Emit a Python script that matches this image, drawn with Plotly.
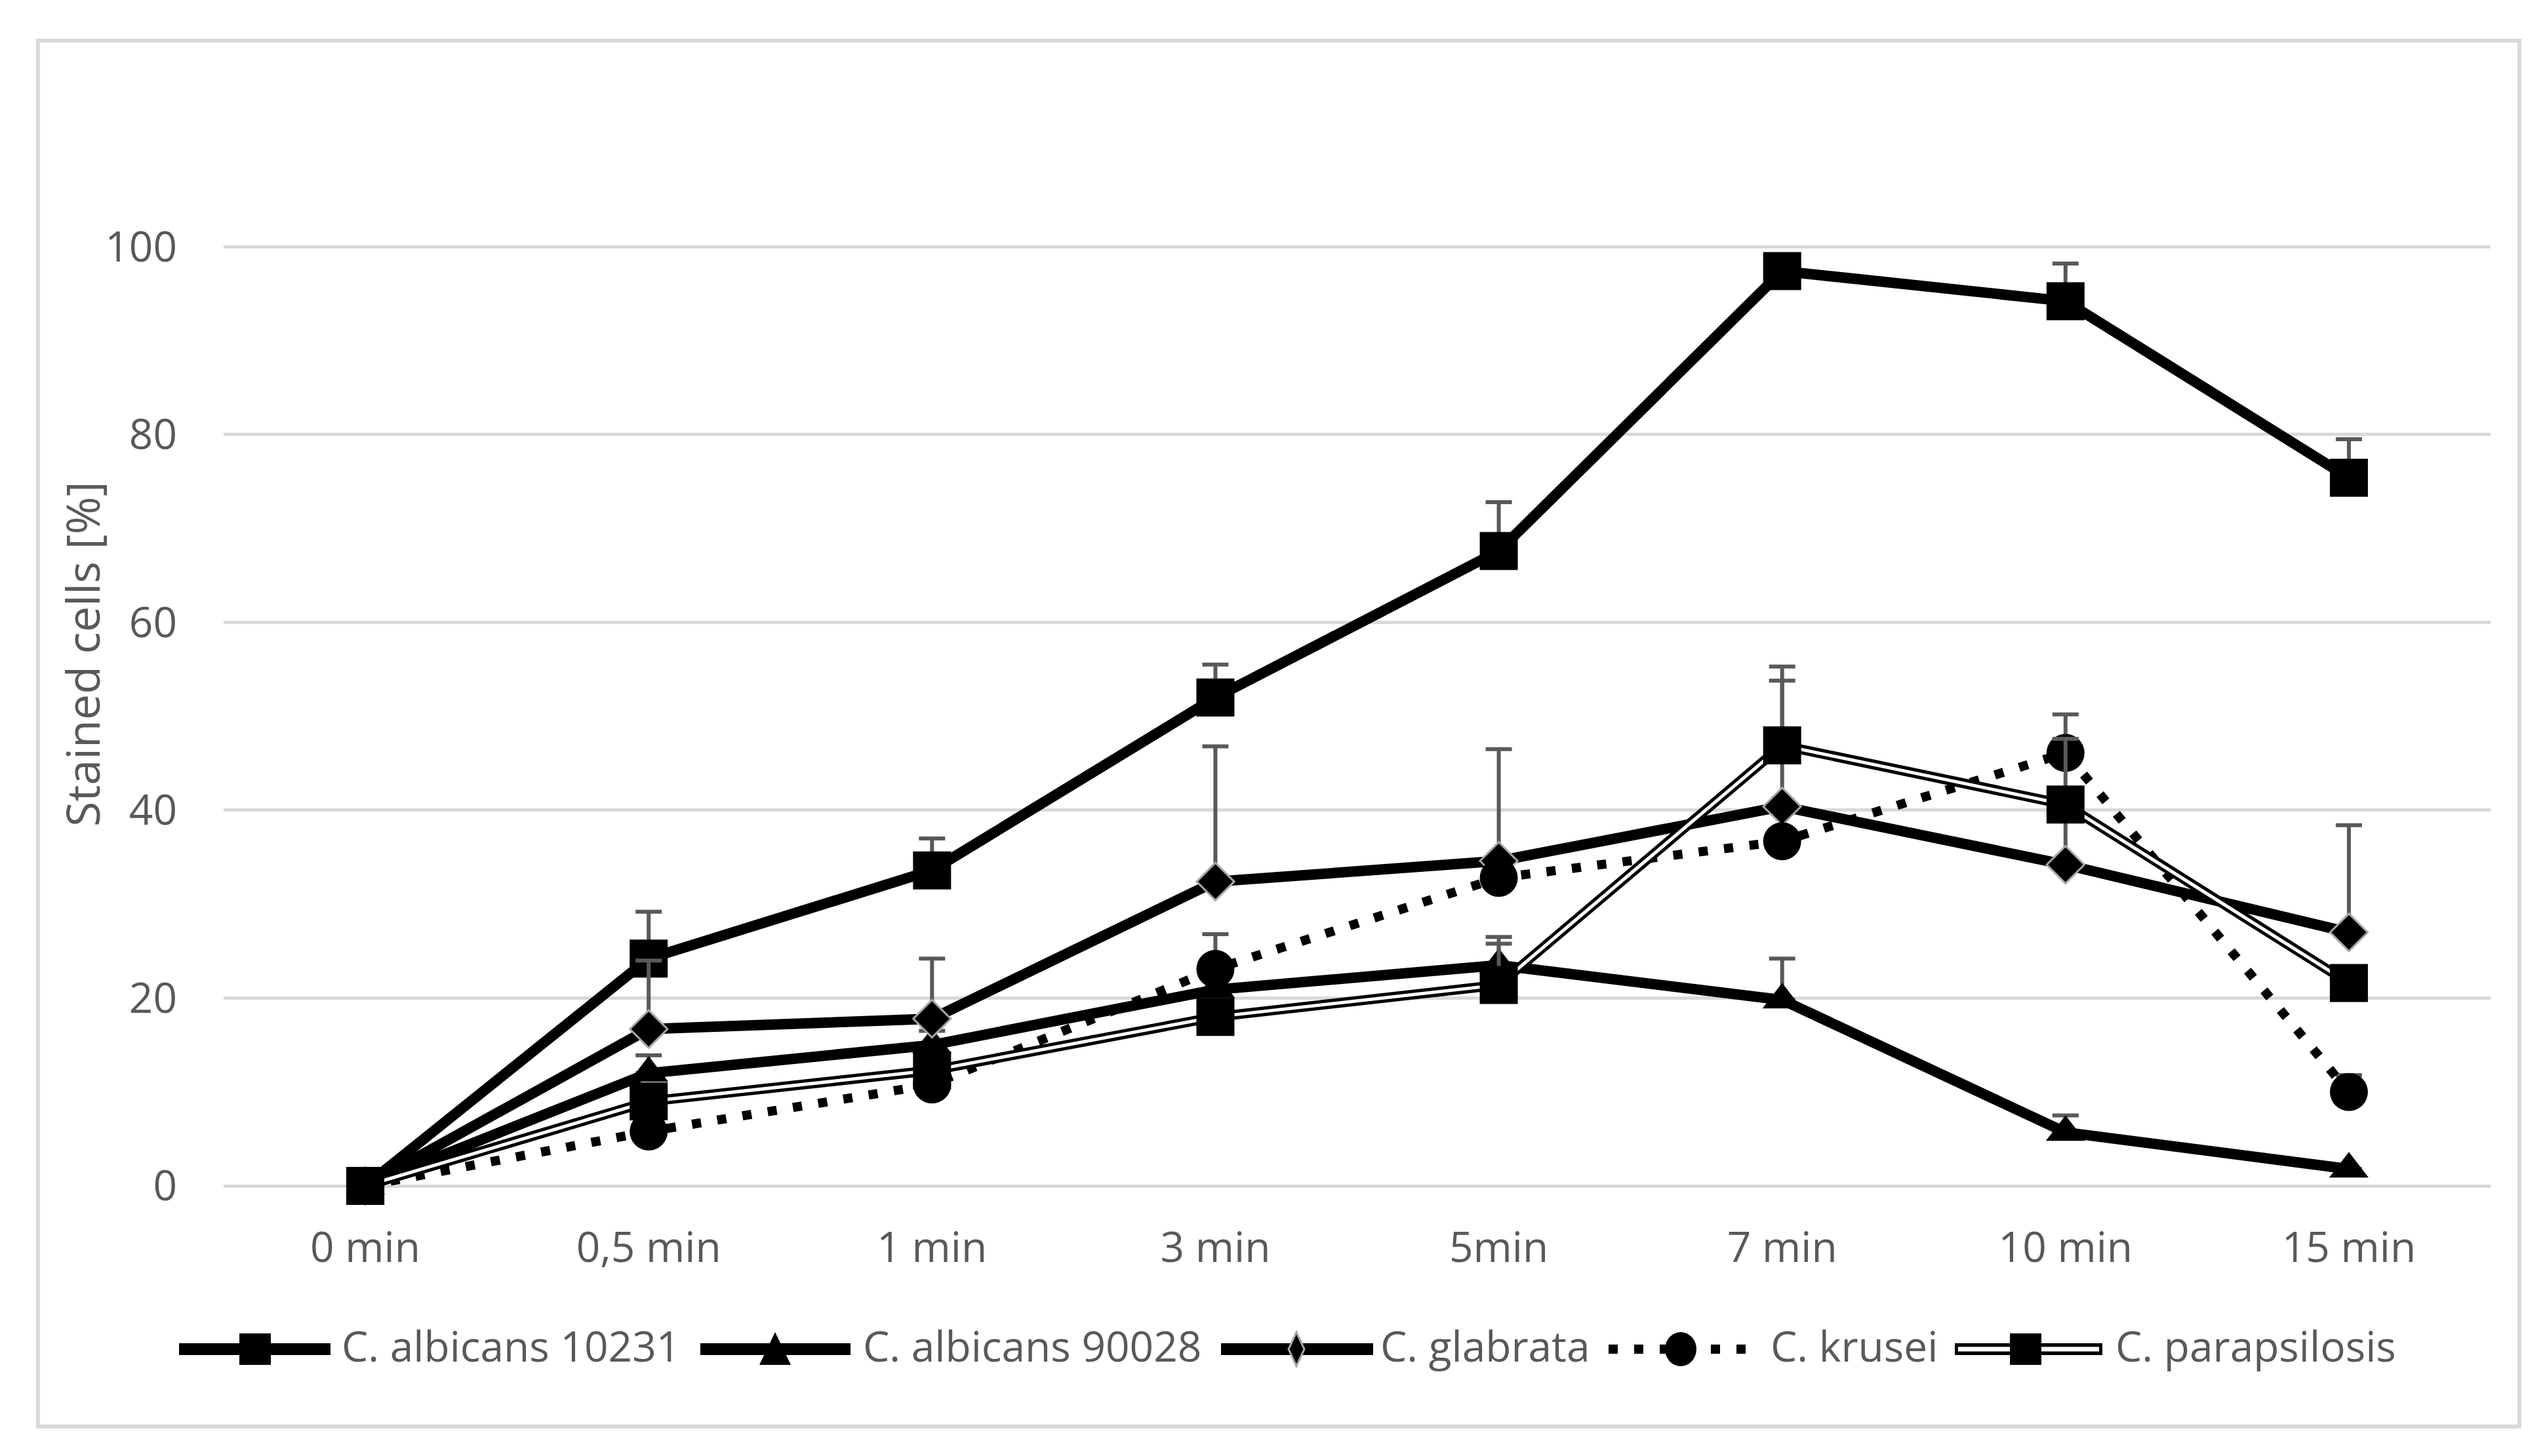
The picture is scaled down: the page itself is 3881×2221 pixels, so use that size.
import plotly.graph_objects as go

# ---------------- data ----------------
categories = ["0 min", "0,5 min", "1 min", "3 min", "5min", "7 min", "10 min", "15 min"]
y_ticks = [0, 20, 40, 60, 80, 100]

alb10231 = [0, 24.2, 33.6, 52.0, 67.6, 97.4, 94.2, 75.4]
alb10231_err = [0, 5.0, 3.4, 3.5, 5.2, 1.0, 4.0, 4.1]

alb90028 = [0, 12.0, 15.0, 20.9, 23.5, 19.8, 5.7, 1.8]
alb90028_err = [0, 1.9, 1.5, 0, 2.3, 4.4, 1.8, 0]

glabrata = [0, 16.7, 17.8, 32.4, 34.6, 40.4, 34.2, 27.0]
glabrata_err = [0, 7.3, 6.4, 14.4, 11.9, 13.4, 5.0, 11.4]

krusei = [0, 5.8, 10.8, 23.1, 32.8, 36.7, 46.1, 10.0]
krusei_err = [0, 0, 0, 3.7, 0, 0, 4.1, 1.8]

parapsilosis = [0, 9.0, 12.3, 18.0, 21.4, 46.9, 40.6, 21.6]
parapsilosis_err = [0, 0, 0, 0, 5.1, 8.4, 7.0, 0]

series_names = ["C. albicans 10231", "C. albicans 90028", "C. glabrata", "C. krusei", "C. parapsilosis"]

# ---------------- style ----------------
W, H = 3881, 2221
ML, MR, MT, MB = 333, 91, 311, 377
PW = W - ML - MR
PH = H - MT - MB
GRAY_TXT = "#595959"
GRID = "#d9d9d9"
FONT = "Open Sans"
LW = 16
ERR = dict(type="data", symmetric=False, color=GRAY_TXT, thickness=6, width=20)


def err(vals):
    d = dict(ERR)
    d["array"] = vals
    d["arrayminus"] = [0] * len(vals)
    return d


fig = go.Figure()

fig.add_trace(go.Scatter(
    x=categories, y=alb10231, mode="lines+markers", name=series_names[0],
    line=dict(color="black", width=LW),
    marker=dict(symbol="square", size=58, color="black"),
    error_y=err(alb10231_err), cliponaxis=False, showlegend=False))

fig.add_trace(go.Scatter(
    x=categories, y=alb90028, mode="lines+markers", name=series_names[1],
    line=dict(color="black", width=LW),
    marker=dict(symbol="triangle-up", size=52, color="black"),
    error_y=err(alb90028_err), cliponaxis=False, showlegend=False))

fig.add_trace(go.Scatter(
    x=categories, y=glabrata, mode="lines+markers", name=series_names[2],
    line=dict(color="black", width=LW),
    marker=dict(symbol="diamond", size=44, color="black", line=dict(color="#a6a6a6", width=3)),
    error_y=err(glabrata_err), cliponaxis=False, showlegend=False))

fig.add_trace(go.Scatter(
    x=categories, y=krusei, mode="lines+markers", name=series_names[3],
    line=dict(color="black", width=14, dash="14px,25px"),
    marker=dict(symbol="circle", size=58, color="black"),
    error_y=err(krusei_err), cliponaxis=False, showlegend=False))

# parapsilosis: double line (black outer + white inner), then markers
fig.add_trace(go.Scatter(
    x=categories, y=parapsilosis, mode="lines", name=series_names[4],
    line=dict(color="black", width=15), showlegend=False, hoverinfo="skip"))
fig.add_trace(go.Scatter(
    x=categories, y=parapsilosis, mode="lines", name=series_names[4],
    line=dict(color="white", width=5), showlegend=False, hoverinfo="skip"))
fig.add_trace(go.Scatter(
    x=categories, y=parapsilosis, mode="markers", name=series_names[4],
    marker=dict(symbol="square", size=58, color="black"),
    error_y=err(parapsilosis_err), cliponaxis=False, showlegend=False))


# ---------------- manual legend (layout in pixels) ----------------
def px(x):
    return (x - ML) / PW


def py(y):
    return (H - MB - y) / PH


shapes = []
annotations = []
LEG_Y = 2050
legend_items = [
    # (line x0, line x1, marker center, text x, kind)
    (265, 496, 381, 511, "square"),
    (1060, 1289, 1174, 1306, "triangle"),
    (1854, 2086, 1969, 2095, "diamond"),
    (2445, 2666, 2555, 2690, "circle"),
    (2973, 3198, 3081, 3216, "double"),
]
for (x0, x1, xc, xt, kind), name in zip(legend_items, series_names):
    if kind == "circle":
        shapes.append(dict(type="line", xref="paper", yref="paper", x0=px(x0), x1=px(x1),
                           y0=py(LEG_Y), y1=py(LEG_Y),
                           line=dict(color="black", width=14, dash="14px,25px")))
    elif kind == "double":
        shapes.append(dict(type="line", xref="paper", yref="paper", x0=px(x0), x1=px(x1),
                           y0=py(LEG_Y), y1=py(LEG_Y), line=dict(color="black", width=18)))
        shapes.append(dict(type="line", xref="paper", yref="paper", x0=px(x0 + 5), x1=px(x1 - 5),
                           y0=py(LEG_Y), y1=py(LEG_Y), line=dict(color="white", width=7)))
    else:
        shapes.append(dict(type="line", xref="paper", yref="paper", x0=px(x0), x1=px(x1),
                           y0=py(LEG_Y), y1=py(LEG_Y), line=dict(color="black", width=18)))
    s = 24
    if kind in ("square", "double"):
        shapes.append(dict(type="rect", xref="paper", yref="paper",
                           x0=px(xc - s), x1=px(xc + s), y0=py(LEG_Y + s), y1=py(LEG_Y - s),
                           fillcolor="black", line=dict(width=0)))
    elif kind == "circle":
        shapes.append(dict(type="circle", xref="paper", yref="paper",
                           x0=px(xc - 24), x1=px(xc + 24), y0=py(LEG_Y + 26), y1=py(LEG_Y - 26),
                           fillcolor="black", line=dict(width=0)))
    elif kind == "triangle":
        path = "M %f %f L %f %f L %f %f Z" % (px(xc), py(LEG_Y - 26), px(xc - 24), py(LEG_Y + 24),
                                             px(xc + 24), py(LEG_Y + 24))
        shapes.append(dict(type="path", xref="paper", yref="paper", path=path,
                           fillcolor="black", line=dict(width=0)))
    elif kind == "diamond":
        path = "M %f %f L %f %f L %f %f L %f %f Z" % (px(xc), py(LEG_Y - 26), px(xc + 12), py(LEG_Y),
                                                     px(xc), py(LEG_Y + 26), px(xc - 12), py(LEG_Y))
        shapes.append(dict(type="path", xref="paper", yref="paper", path=path,
                           fillcolor="black", line=dict(color="#a6a6a6", width=3)))
    annotations.append(dict(text=name, xref="paper", yref="paper", x=px(xt), y=py(LEG_Y - 6),
                            xanchor="left", yanchor="middle", showarrow=False,
                            font=dict(family=FONT, size=64, color=GRAY_TXT)))

# outer chart border
shapes.append(dict(type="rect", xref="paper", yref="paper", layer="below",
                   x0=px(50), x1=px(3834), y0=py(2168), y1=py(54),
                   line=dict(color=GRID, width=6), fillcolor="rgba(0,0,0,0)"))

# y axis title
annotations.append(dict(text="Stained cells [%]", xref="paper", yref="paper",
                        x=px(117), y=py(990), textangle=-90, showarrow=False,
                        xanchor="center", yanchor="middle",
                        font=dict(family=FONT, size=70, color=GRAY_TXT)))

fig.update_layout(
    width=W, height=H,
    margin=dict(l=ML, r=MR, t=MT, b=MB, pad=0),
    paper_bgcolor="white", plot_bgcolor="white",
    showlegend=False,
    shapes=shapes, annotations=annotations,
    font=dict(family=FONT, color=GRAY_TXT, size=64),
)
fig.update_xaxes(type="category", categoryorder="array", categoryarray=categories,
                 range=[-0.5, len(categories) - 0.5], showgrid=False, zeroline=False,
                 showline=False, ticks="", ticklabelstandoff=8,
                 tickfont=dict(family=FONT, size=64, color=GRAY_TXT))
fig.update_yaxes(range=[-3, 104], tickvals=y_ticks, ticktext=[str(v) for v in y_ticks],
                 showgrid=True, gridcolor=GRID, gridwidth=5, zeroline=False, showline=False,
                 ticks="", ticklabelstandoff=70,
                 tickfont=dict(family=FONT, size=64, color=GRAY_TXT))

fig.write_html("out.html")
